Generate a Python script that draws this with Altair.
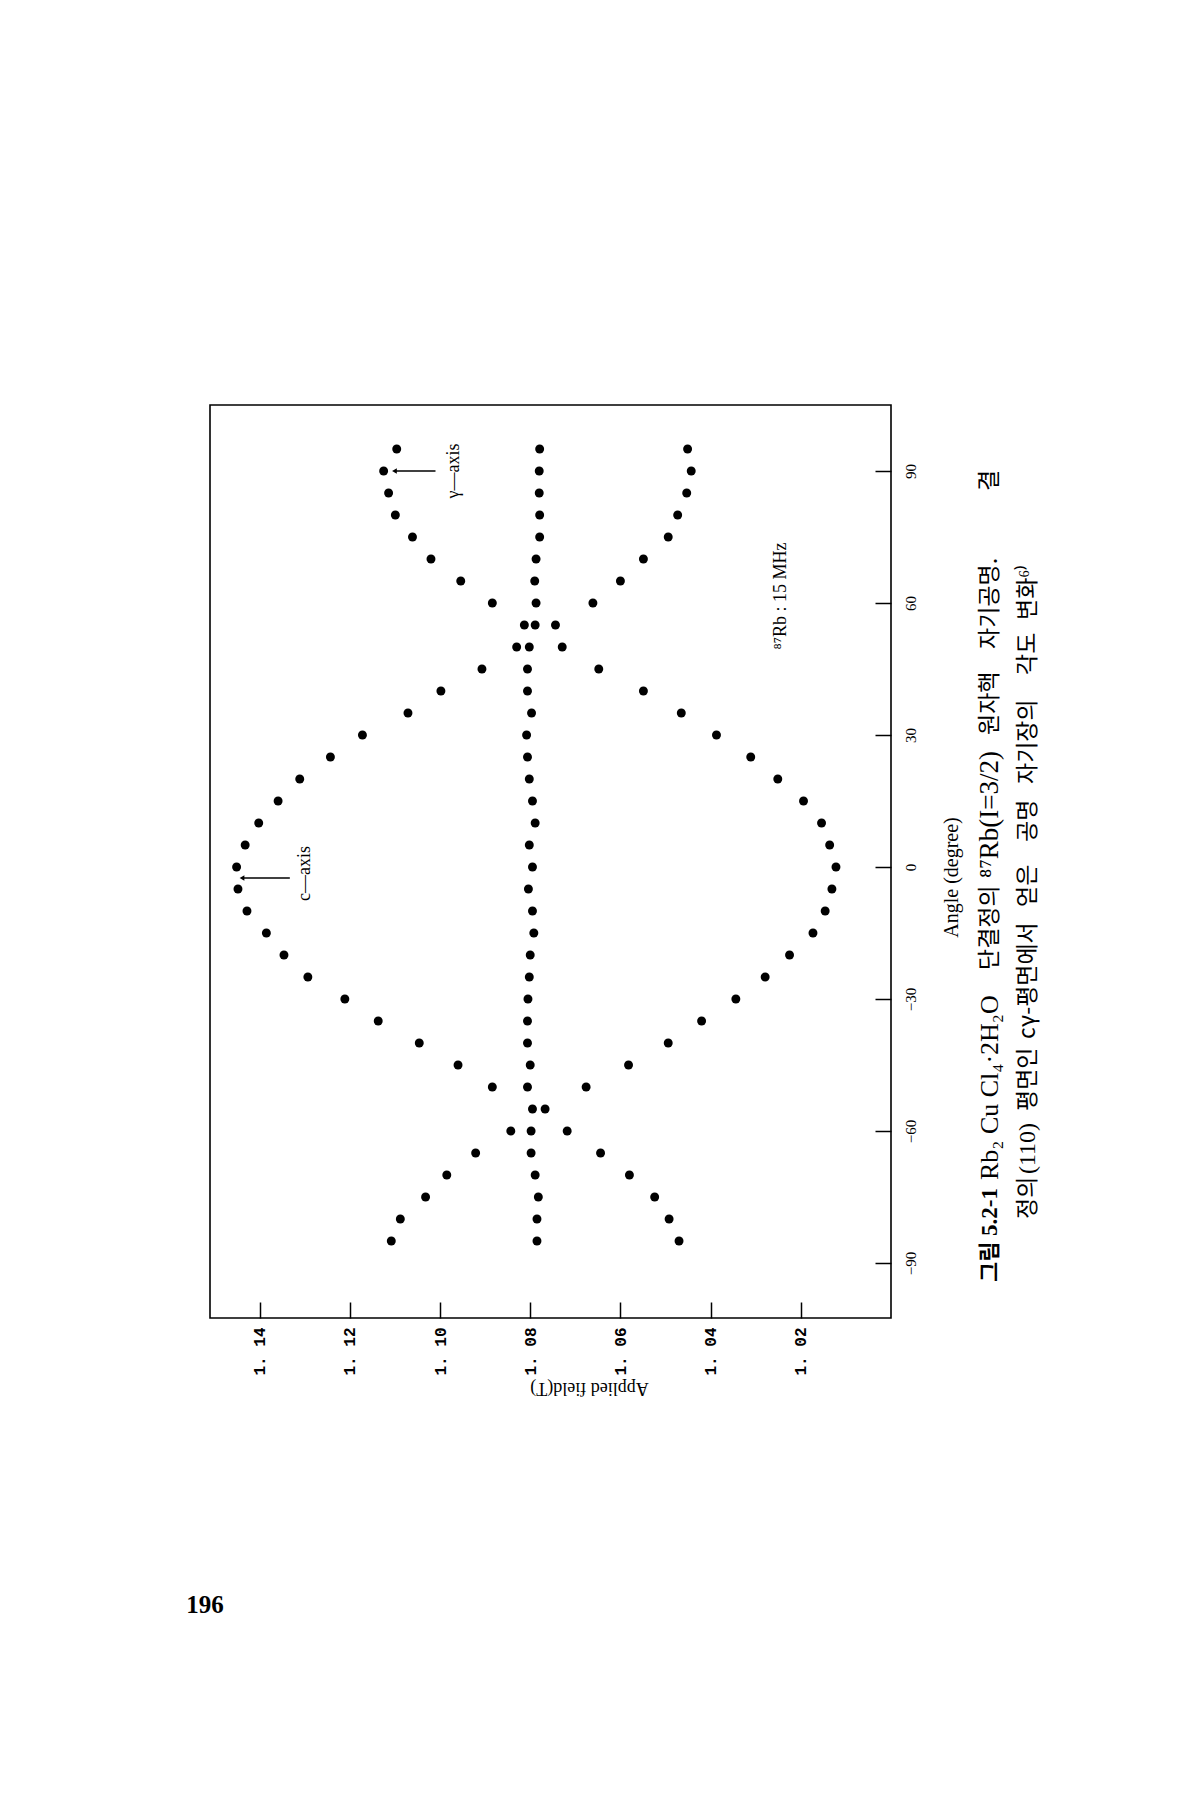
import altair as alt
import pandas as pd

# ---- data ----
angles = [-85, -80, -75, -70, -65, -60, -55, -50, -45, -40, -35, -30, -25, -20,
          -15, -10, -5, 0, 5, 10, 15, 20, 25, 30, 35, 40, 45, 50, 55, 60, 65,
          70, 75, 80, 85, 90, 95]

field_upper = [1.1108, 1.1088, 1.1032, 1.0985, 1.0921, 1.0843, None, 1.0884,
               1.0960, 1.1046, 1.1137, 1.1211, 1.1293, 1.1346, 1.1385, 1.1428,
               1.1448, 1.1451, 1.1432, 1.1402, 1.1359, 1.1311, 1.1243, 1.1172,
               1.1071, 1.0998, 1.0907, 1.0830, 1.0813, 1.0884, 1.0954, 1.1020,
               1.1061, 1.1099, 1.1114, 1.1125, 1.1096]

field_central = [1.0785, 1.0785, 1.0782, 1.0789, 1.0798, 1.0798, 1.0795, 1.0806,
                 1.0800, 1.0806, 1.0806, 1.0805, 1.0802, 1.0800, 1.0792, 1.0795,
                 1.0804, 1.0795, 1.0802, 1.0789, 1.0795, 1.0802, 1.0806, 1.0808,
                 1.0797, 1.0806, 1.0806, 1.0802, 1.0789, 1.0787, 1.0790, 1.0787,
                 1.0779, 1.0779, 1.0780, 1.0780, 1.0779]

field_lower = [1.0470, 1.0492, 1.0524, 1.0580, 1.0644, 1.0718, 1.0767, 1.0676,
               1.0582, 1.0494, 1.0420, 1.0344, 1.0279, 1.0225, 1.0173, 1.0146,
               1.0131, 1.0122, 1.0136, 1.0154, 1.0194, 1.0251, 1.0311, 1.0387,
               1.0465, 1.0549, 1.0648, 1.0729, 1.0744, 1.0661, 1.0600, 1.0549,
               1.0494, 1.0473, 1.0453, 1.0443, 1.0451]

field_ticks = [1.14, 1.12, 1.10, 1.08, 1.06, 1.04, 1.02]
angle_ticks = [-90, -60, -30, 0, 30, 60, 90]

arrow_labels = ["c—axis", "γ—axis"]
arrow_angle = [-2.5, 90]
arrow_tip = [1.1439, 1.1101]
arrow_tail = [1.1333, 1.1010]
arrow_text_field = [1.1300, 1.0970]
arrow_text_angle = [-1.5, 90]

freq_label = ["⁸⁷Rb : 15 MHz"]
freq_field = [1.0245]
freq_angle = [61.6]

# caption pieces: text, style, line, start position along the line, font size
caption_text = ["그림", "5.2-1", "Rb₂ Cu Cl₄·2H₂O", "단결정의", "⁸⁷Rb(I=3/2)", "원자핵",
                "자기공명.", "결",
                "정의", "(110)", "평면인", "cγ-평면에서", "얻은", "공명", "자기장의",
                "각도", "변화⁶⁾"]
caption_kind = ["head_kr", "head_latin", "latin", "kr", "latin", "kr", "kr", "kr",
                "kr", "latin", "kr", "kr", "kr", "kr", "kr", "kr", "kr"]
caption_line = [1, 1, 1, 1, 1, 1, 1, 1, 2, 2, 2, 2, 2, 2, 2, 2, 2]
caption_start = [877, 831, 775, 565, 473, 330, 244, 86,
                 814, 769, 706, 634, 502, 437, 379, 270, 215]
caption_size = [22, 23, 26, 23, 27, 23, 23, 23,
                23, 24, 23, 23, 23, 23, 23, 23, 23]
page_number = ["196"]

# ---- tables ----
rows = []
for series, vals in (("upper", field_upper), ("central", field_central), ("lower", field_lower)):
    for a, v in zip(angles, vals):
        if v is not None:
            rows.append({"angle": a, "field": v, "series": series})
points_df = pd.DataFrame(rows)

arrows_df = pd.DataFrame({"label": arrow_labels, "angle": arrow_angle,
                          "tip": arrow_tip, "tail": arrow_tail,
                          "tfield": arrow_text_field, "tangle": arrow_text_angle})
freq_df = pd.DataFrame({"label": freq_label, "field": freq_field, "angle": freq_angle})
cap_df = pd.DataFrame({"t": caption_text, "kind": caption_kind, "line": caption_line,
                       "pos": caption_start, "fs": caption_size})
cap_df["xpos"] = cap_df["line"].map({1: 780, 2: 818})

W, H = 681, 913
xscale = alt.Scale(domain=[1.0, 1.151], reverse=True, nice=False, zero=False)
yscale = alt.Scale(domain=[-102.5, 105], nice=False, zero=False)

x_axis = alt.Axis(
    orient="bottom", values=field_ticks,
    labelExpr="replace(format(datum.value, '.2f'), '.', '. ')",
    labelAngle=270, labelAlign="right", labelBaseline="middle",
    labelFont="Liberation Mono", labelFontWeight="bold", labelFontSize=16,
    labelColor="black", labelPadding=9,
    tickSize=16, tickColor="black", tickWidth=1.5, offset=-16,
    domain=False, grid=False,
    title="Applied field(T)", titleAngle=180, titleFont="Liberation Serif",
    titleFontSize=18, titleFontWeight="normal", titleColor="black",
    titleX=379, titleY=85, titleAlign="center", titleBaseline="middle")

y_axis = alt.Axis(
    orient="right", values=angle_ticks,
    labelExpr="replace(format(datum.value, 'd'), '-', '—')",
    labelAngle=270, labelAlign="center", labelBaseline="top",
    labelFont="Liberation Serif", labelFontSize=15, labelColor="black",
    labelPadding=12,
    tickSize=16, tickColor="black", tickWidth=1.5, offset=-16,
    domain=False, grid=False,
    title="Angle (degree)", titleAngle=270, titleFont="Liberation Serif",
    titleFontSize=20, titleFontWeight="normal", titleColor="black",
    titleX=76, titleY=472, titleAlign="center", titleBaseline="middle")

dots = alt.Chart(points_df).mark_circle(size=80, color="black", opacity=1).encode(
    x=alt.X("field:Q", scale=xscale, axis=x_axis),
    y=alt.Y("angle:Q", scale=yscale, axis=y_axis),
)

arrow_lines = alt.Chart(arrows_df).mark_rule(color="black", strokeWidth=1.5).encode(
    x=alt.X("tail:Q", scale=xscale), x2="tip:Q", y=alt.Y("angle:Q", scale=yscale))

arrow_heads = alt.Chart(arrows_df).mark_point(
    shape="triangle-left", filled=True, color="black", size=30, opacity=1).encode(
    x=alt.X("tip:Q", scale=xscale), y=alt.Y("angle:Q", scale=yscale))

arrow_texts = alt.Chart(arrows_df).mark_text(
    angle=270, font="Liberation Serif", fontSize=18, color="black",
    align="center", baseline="middle").encode(
    x=alt.X("tfield:Q", scale=xscale), y=alt.Y("tangle:Q", scale=yscale), text="label:N")

freq_text = alt.Chart(freq_df).mark_text(
    angle=270, font="Liberation Serif", fontSize=18, color="black",
    align="center", baseline="middle").encode(
    x=alt.X("field:Q", scale=xscale), y=alt.Y("angle:Q", scale=yscale), text="label:N")


def caption_layer(kind, font, weight):
    return alt.Chart(cap_df).transform_filter(f"datum.kind == '{kind}'").mark_text(
        angle=270, font=font, fontWeight=weight, color="black",
        align="left", baseline="middle").encode(
        x=alt.X("xpos:Q", scale=None), y=alt.Y("pos:Q", scale=None),
        size=alt.Size("fs:Q", scale=None, legend=None), text="t:N")


cap_head_kr = caption_layer("head_kr", "Noto Sans CJK KR", "bold")
cap_head_latin = caption_layer("head_latin", "Liberation Serif", "bold")
cap_kr = caption_layer("kr", "Noto Sans CJK KR", "normal")
cap_latin = caption_layer("latin", "Liberation Serif", "normal")

page = alt.Chart(pd.DataFrame({"t": page_number})).mark_text(
    font="Liberation Serif", fontSize=25, fontWeight="bold", color="black",
    align="center", baseline="middle").encode(
    x=alt.value(-5), y=alt.value(1200), text="t:N")

chart = alt.layer(
    dots, arrow_lines, arrow_heads, arrow_texts, freq_text,
    cap_head_kr, cap_head_latin, cap_kr, cap_latin, page
).properties(
    width=W, height=H,
    autosize=alt.AutoSizeParams(type="none"),
    padding={"left": 202, "top": 397, "right": 300, "bottom": 480},
    background="white",
).configure_view(
    stroke="black", strokeWidth=1.6
)

chart.save("out.html", embed_options={"renderer": "svg", "actions": False})
